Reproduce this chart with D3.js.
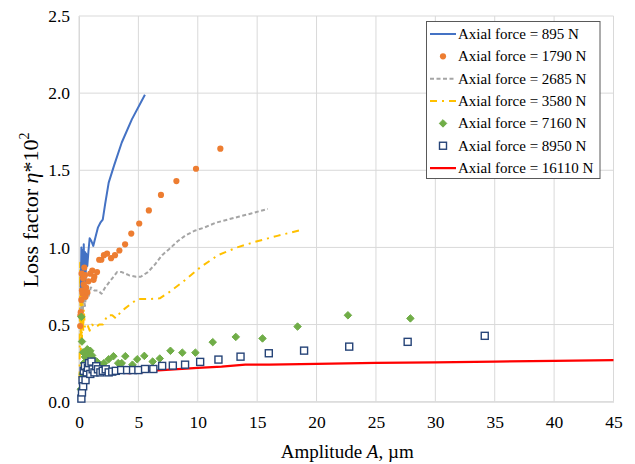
<!DOCTYPE html>
<html>
<head>
<meta charset="utf-8">
<script src="https://cdn.jsdelivr.net/npm/d3@7"></script>
<style>
  html, body { margin: 0; padding: 0; background: #fff; }
  svg text { fill: #000; }
</style>
</head>
<body>
<svg id="chart" width="635" height="464"></svg>
<script>
// Loss factor (η*10^2) versus vibration amplitude A (µm) for several axial forces

const xTicks = [0, 5, 10, 15, 20, 25, 30, 35, 40, 45];
const yTicks = [0.0, 0.5, 1.0, 1.5, 2.0, 2.5];

// Axial force = 895 N (solid line)
const f895 = [[0.15,0.72],[0.2,1.0],[0.25,0.78],[0.3,0.98],[0.35,0.74],[0.4,1.02],[0.45,0.8],[0.5,0.97],
  [0.55,0.76],[0.6,0.96],[0.7,0.88],[0.8,0.98],[0.9,1.06],[1.05,1.04],[1.2,1.01],[1.4,1.07],[1.6,1.13],
  [1.8,1.16],[2.0,1.18],[2.2,1.28],[2.5,1.42],[2.95,1.53],[3.6,1.68],[4.45,1.83],[5.55,1.99]];

// Axial force = 1790 N (dots)
const f1790 = [[0.1,0.49],[0.12,0.56],[0.15,0.58],[0.2,0.66],[0.22,0.83],[0.25,0.72],[0.3,0.7],[0.35,0.8],
  [0.4,0.76],[0.45,0.87],[0.5,0.82],[0.55,0.68],[0.6,0.74],[0.7,0.71],[0.8,0.78],[0.95,0.83],[1.12,0.85],
  [1.23,0.79],[1.29,0.81],[1.52,0.84],[1.7,0.92],[1.88,0.92],[2.1,0.95],[2.36,0.96],[2.7,0.93],[3.03,0.95],
  [3.4,0.98],[3.88,1.02],[4.4,1.09],[5.07,1.155],[5.88,1.24],[6.9,1.34],[8.2,1.43],[9.85,1.51],[11.9,1.64]];

// Axial force = 2685 N (dashed line)
const f2685 = [[0.1,0.55],[0.2,0.62],[0.3,0.58],[0.4,0.68],[0.5,0.62],[0.6,0.7],[0.8,0.68],[1.0,0.74],
  [1.3,0.72],[1.6,0.72],[1.9,0.70],[2.2,0.74],[2.5,0.77],[2.8,0.80],[3.2,0.84],[3.6,0.84],[4.2,0.82],
  [4.8,0.81],[5.2,0.81],[5.8,0.84],[6.4,0.89],[7.0,0.95],[7.6,0.99],[8.3,1.04],[9.0,1.08],[9.8,1.11],
  [10.6,1.13],[11.5,1.16],[12.5,1.18],[13.5,1.20],[14.5,1.22],[15.9,1.25]];

// Axial force = 3580 N (dash-dot line)
const f3580 = [[0.05,0.15],[0.1,0.9],[0.15,0.3],[0.2,0.85],[0.25,0.4],[0.3,0.7],[0.35,0.45],[0.4,0.6],
  [0.5,0.48],[0.7,0.5],[0.9,0.46],[1.1,0.5],[1.4,0.48],[1.7,0.5],[2.0,0.5],[2.4,0.56],[2.8,0.56],
  [3.1,0.54],[3.5,0.58],[3.8,0.6],[4.3,0.63],[4.9,0.665],[5.9,0.665],[6.8,0.67],[7.6,0.71],[8.8,0.78],
  [10.2,0.87],[11.7,0.95],[13.3,1.0],[15.0,1.04],[16.7,1.075],[18.8,1.115]];

// Axial force = 7160 N (diamonds)
const f7160 = [[0.15,0.08],[0.2,0.55],[0.25,0.39],[0.3,0.18],[0.35,0.32],[0.4,0.25],[0.5,0.29],[0.6,0.24],
  [0.7,0.34],[0.85,0.31],[0.95,0.33],[1.1,0.30],[1.3,0.27],[1.5,0.26],[1.8,0.24],[2.1,0.25],[2.5,0.275],
  [2.9,0.295],[3.3,0.25],[3.6,0.25],[3.9,0.295],[4.5,0.24],[4.9,0.275],[5.5,0.297],[6.2,0.26],[6.8,0.28],
  [7.7,0.33],[8.7,0.318],[9.8,0.318],[11.26,0.386],[13.2,0.42],[15.45,0.41],[18.4,0.487],[22.64,0.56],
  [27.9,0.54]];

// Axial force = 8950 N (open squares)
const f8950 = [[0.2,0.02],[0.25,0.06],[0.3,0.14],[0.35,0.1],[0.4,0.2],[0.5,0.23],[0.55,0.14],[0.65,0.19],
  [0.75,0.22],[0.85,0.25],[0.95,0.18],[1.05,0.26],[1.15,0.21],[1.3,0.19],[1.45,0.23],[1.6,0.21],[1.8,0.19],
  [2.0,0.20],[2.25,0.21],[2.5,0.19],[2.8,0.195],[3.1,0.20],[3.55,0.205],[4.05,0.205],[4.55,0.205],
  [5.0,0.205],[5.56,0.212],[6.26,0.212],[7.0,0.232],[7.9,0.234],[8.93,0.24],[10.2,0.258],[11.74,0.273],
  [13.6,0.292],[15.98,0.314],[18.95,0.331],[22.75,0.357],[27.67,0.388],[34.16,0.427]];

// Axial force = 16110 N (solid line)
const f16110 = [[0.15,0.1],[0.25,0.2],[0.35,0.17],[0.5,0.2],[0.8,0.19],[1.2,0.2],[1.8,0.19],[2.5,0.18],
  [3.2,0.19],[4.2,0.185],[5.2,0.19],[6.0,0.2],[8.0,0.21],[10.0,0.22],[12.0,0.228],[14.0,0.24],[16.0,0.24],
  [20.0,0.245],[25.0,0.252],[30.0,0.255],[35.0,0.26],[40.0,0.265],[45.0,0.27]];

const legendLabels = ["Axial force = 895 N", "Axial force = 1790 N", "Axial force = 2685 N",
  "Axial force = 3580 N", "Axial force = 7160 N", "Axial force = 8950 N", "Axial force = 16110 N"];

const FONT = "'Liberation Serif', 'Times New Roman', 'DejaVu Serif', serif";
const svg = d3.select("#chart");
const plot = { left: 79, right: 613.5, top: 16, bottom: 401.7 };

const x = d3.scaleLinear().domain([0, 45]).range([plot.left, plot.right]);
const y = d3.scaleLinear().domain([0, 2.5]).range([plot.bottom, plot.top]);

// Gridlines
const grid = svg.append("g");
grid.selectAll("line.v").data(xTicks).join("line")
  .attr("x1", d => x(d)).attr("x2", d => x(d))
  .attr("y1", plot.top).attr("y2", plot.bottom)
  .attr("stroke", "#d9d9d9").attr("stroke-width", 1);
grid.selectAll("line.h").data(yTicks).join("line")
  .attr("x1", plot.left).attr("x2", plot.right)
  .attr("y1", d => y(d)).attr("y2", d => y(d))
  .attr("stroke", "#d9d9d9").attr("stroke-width", 1);

// Axes (tick labels only; the lines come from the grid)
const xAxis = d3.axisBottom(x).tickValues(xTicks).tickSize(0).tickPadding(14).tickFormat(d3.format("d"));
svg.append("g").attr("transform", `translate(0,${plot.bottom})`).call(xAxis)
  .attr("font-family", FONT).attr("font-size", 17.5)
  .call(g => g.select(".domain").attr("stroke", "#d9d9d9"))
  .selectAll("text").attr("fill", "#000");

const yAxis = d3.axisLeft(y).tickValues(yTicks).tickSize(0).tickPadding(9).tickFormat(d3.format(".1f"));
svg.append("g").attr("transform", `translate(${plot.left},0)`).call(yAxis)
  .attr("font-family", FONT).attr("font-size", 17.5)
  .call(g => g.select(".domain").attr("stroke", "#d9d9d9"))
  .selectAll("text").attr("fill", "#000");

// Axis titles
const xt = svg.append("text").attr("x", (plot.left + plot.right) / 2 + 1).attr("y", 458)
  .attr("text-anchor", "middle").attr("font-family", FONT).attr("font-size", 19);
xt.append("tspan").text("Amplitude ");
xt.append("tspan").attr("font-style", "italic").text("A");
xt.append("tspan").text(", µm");

const yt = svg.append("text").attr("transform", "translate(38,210) rotate(-90)")
  .attr("text-anchor", "middle").attr("font-family", FONT).attr("font-size", 22);
yt.append("tspan").text("Loss factor ");
yt.append("tspan").attr("font-style", "italic").text("η");
yt.append("tspan").text("*10");
yt.append("tspan").attr("dy", -9).attr("font-size", 14).text("2");

const line = d3.line().x(d => x(d[0])).y(d => y(d[1]));
const marks = svg.append("g");

// Series styles
const styles = [
  { data: f895, type: "line", color: "#4472C4", width: 2, dash: null },
  { data: f1790, type: "dot", color: "#ED7D31" },
  { data: f2685, type: "line", color: "#A5A5A5", width: 2, dash: "4,2.5" },
  { data: f3580, type: "line", color: "#FFC000", width: 2, dash: "7,5,2,5" },
  { data: f7160, type: "diamond", color: "#70AD47" },
  { data: f8950, type: "square", color: "#264478" },
  { data: f16110, type: "line", color: "#FF0000", width: 2.25, dash: null }
];

function drawMarker(g, s, px, py) {
  if (s.type === "dot") {
    g.append("circle").attr("cx", px).attr("cy", py).attr("r", 3.1).attr("fill", s.color);
  } else if (s.type === "diamond") {
    g.append("path").attr("d", d3.symbol(d3.symbolDiamond2, 36)())
      .attr("transform", `translate(${px},${py})`).attr("fill", s.color)
      .attr("stroke", s.color).attr("stroke-width", 1);
  } else if (s.type === "square") {
    g.append("rect").attr("x", px - 3.5).attr("y", py - 3.5).attr("width", 7).attr("height", 7)
      .attr("fill", "#fff").attr("stroke", s.color).attr("stroke-width", 1.4);
  }
}

// Draw order: later series on top
const order = [6, 3, 2, 0, 1, 4, 5];
order.forEach(i => {
  const s = styles[i];
  if (s.type === "line") {
    marks.append("path").datum(s.data).attr("d", line)
      .attr("fill", "none").attr("stroke", s.color).attr("stroke-width", s.width)
      .attr("stroke-dasharray", s.dash).attr("stroke-linejoin", "round");
  } else {
    const g = marks.append("g");
    s.data.forEach(d => drawMarker(g, s, x(d[0]), y(d[1])));
  }
});

// Legend
const lg = svg.append("g");
lg.append("rect").attr("x", 426.5).attr("y", 21.5).attr("width", 173.5).attr("height", 157)
  .attr("fill", "#fff").attr("stroke", "#595959").attr("stroke-width", 1);
const rowY = i => 34 + i * 22.35;
styles.forEach((s, i) => {
  const cy = rowY(i);
  if (s.type === "line") {
    lg.append("line").attr("x1", 430).attr("x2", 456).attr("y1", cy).attr("y2", cy)
      .attr("stroke", s.color).attr("stroke-width", s.width).attr("stroke-dasharray", s.dash);
  } else {
    drawMarker(lg, s, 443, cy);
  }
  lg.append("text").attr("x", 458).attr("y", cy + 5)
    .attr("font-family", FONT).attr("font-size", 15).text(legendLabels[i]);
});
</script>
</body>
</html>
